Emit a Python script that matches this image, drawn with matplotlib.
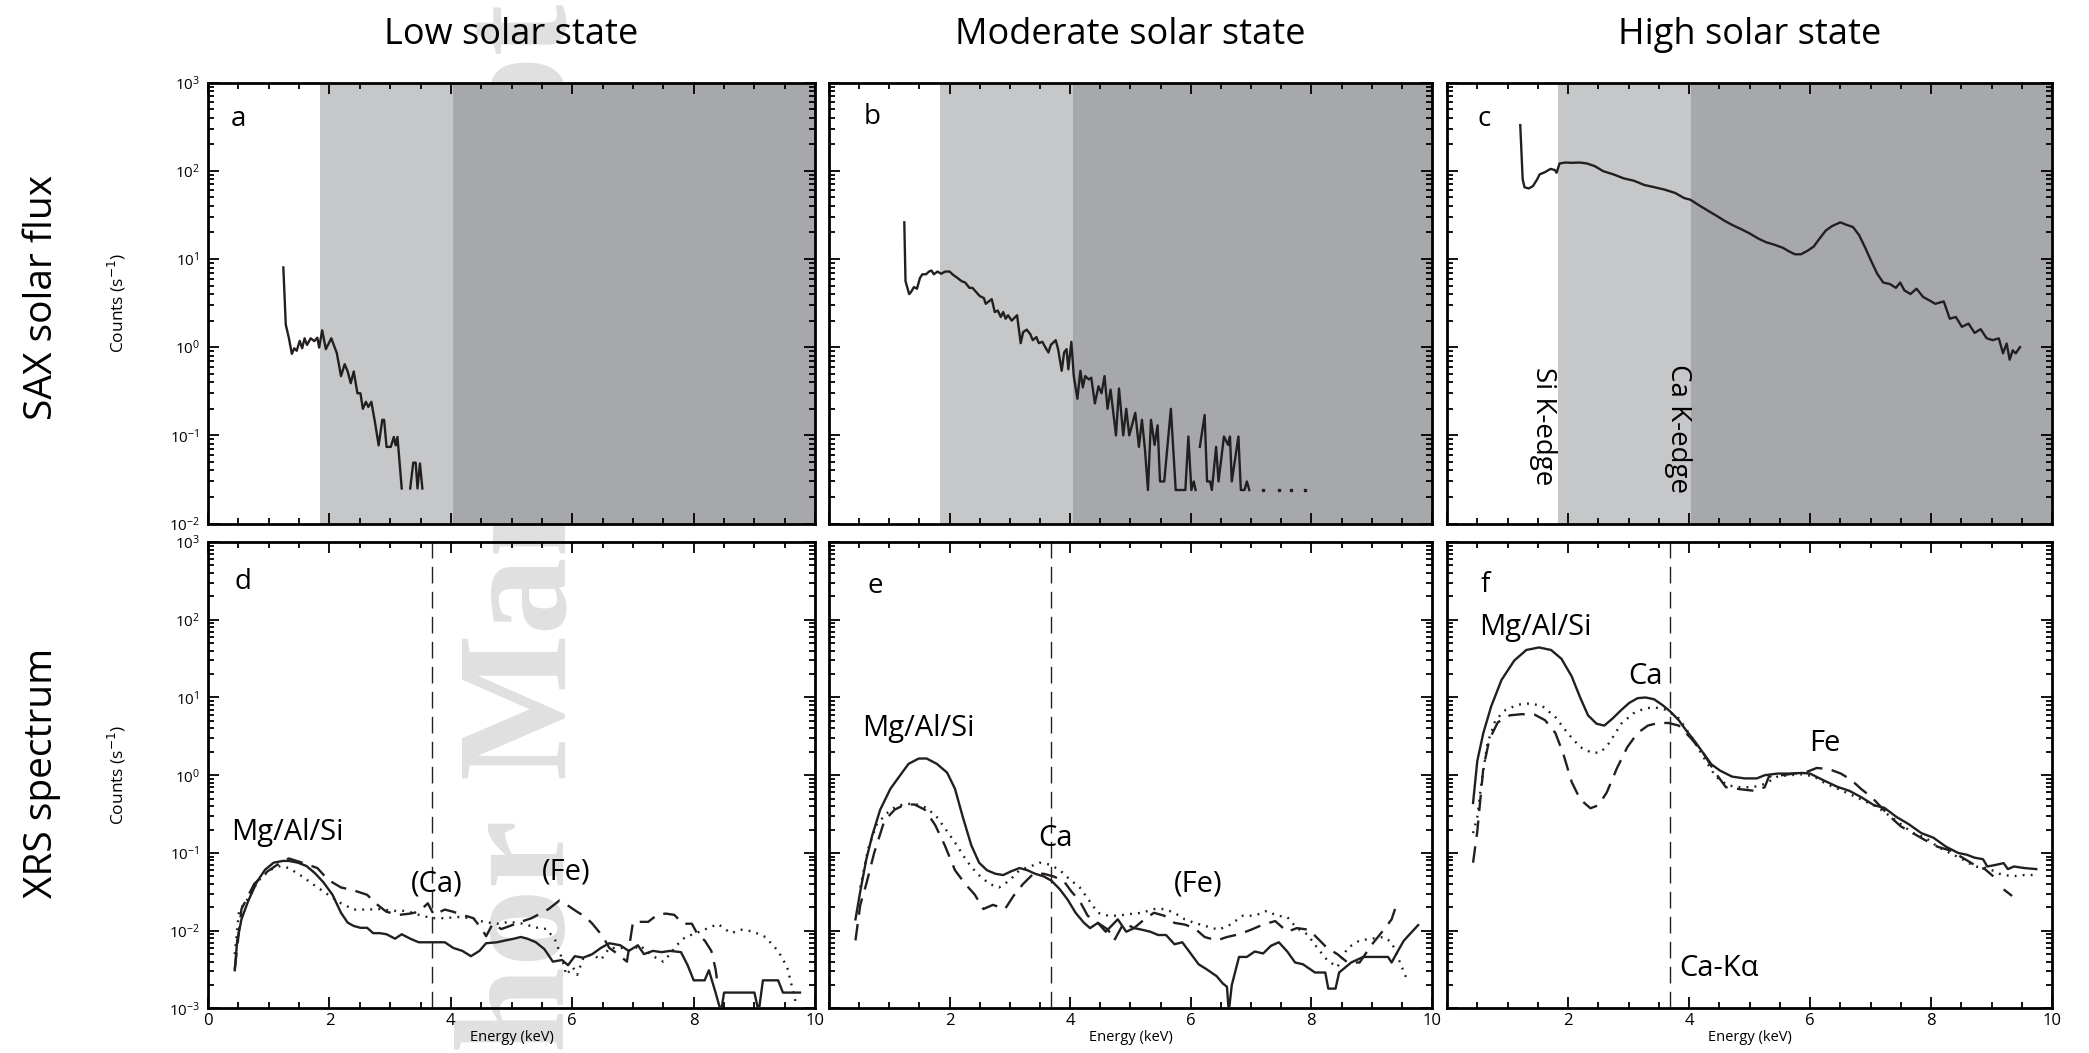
import numpy as np
import matplotlib.pyplot as plt
from matplotlib.ticker import LogLocator, MultipleLocator, NullFormatter, FixedLocator

plt.rcParams['font.family'] = ['Open Sans', 'DejaVu Sans']
nan = np.nan

# ---- SAX solar flux (top row) ----
sax_low_e = [1.24, 1.28, 1.33, 1.38, 1.42, 1.46, 1.51, 1.55, 1.59, 1.63, 1.69, 1.75, 1.80, 1.83, 1.88,
             1.94, 2.03, 2.12, 2.19, 2.25, 2.30, 2.35, 2.40, 2.46, 2.51, 2.55, 2.60, 2.64, 2.69, 2.75,
             2.81, 2.87, 2.90, 2.94, 3.01, 3.06, 3.09, 3.12, 3.19, 3.26, 3.33, 3.38, 3.42, 3.45, 3.49, 3.53]
sax_low_c = [8.0, 1.8, 1.28, 0.84, 0.97, 0.91, 1.18, 0.97, 1.26, 1.06, 1.26, 1.17, 1.28, 0.99, 1.55,
             0.95, 1.26, 0.86, 0.47, 0.64, 0.53, 0.39, 0.53, 0.30, 0.30, 0.20, 0.24, 0.21, 0.24, 0.14,
             0.077, 0.15, 0.15, 0.074, 0.074, 0.096, 0.077, 0.096, 0.025, nan, 0.025, 0.049, 0.049, 0.025, 0.048, 0.025]

sax_mod_e = [1.25, 1.27, 1.33, 1.36, 1.41, 1.46, 1.51, 1.55, 1.61, 1.66, 1.70, 1.74, 1.80, 1.86, 1.93,
             2.00, 2.06, 2.13, 2.20, 2.26, 2.33, 2.38, 2.43, 2.50, 2.57, 2.60, 2.65, 2.70, 2.75, 2.80,
             2.85, 2.89, 2.93, 2.97, 3.03, 3.12, 3.18, 3.22, 3.28, 3.34, 3.38, 3.44, 3.48, 3.54, 3.58,
             3.64, 3.68, 3.76, 3.80, 3.86, 3.90, 3.94, 3.97, 4.02, 4.06, 4.12, 4.17, 4.21, 4.25, 4.31,
             4.35, 4.41, 4.47, 4.52, 4.57, 4.62, 4.67, 4.76, 4.81, 4.88, 4.93, 4.98, 5.08, 5.14, 5.19,
             5.24, 5.29, 5.34, 5.40, 5.45, 5.49, 5.56, 5.67, 5.75, 5.91, 5.96, 6.01, 6.05, 6.08, 6.11,
             6.15, 6.23, 6.27, 6.32, 6.35, 6.42, 6.46, 6.55, 6.62, 6.65, 6.68, 6.79, 6.83, 6.89, 6.93, 6.97]
sax_mod_c = [26, 5.6, 4.0, 4.2, 4.8, 4.6, 6.1, 6.7, 6.7, 7.2, 7.4, 6.7, 7.2, 6.8, 7.2,
             7.2, 6.6, 6.1, 5.6, 5.4, 4.7, 4.7, 4.3, 3.8, 3.6, 3.1, 3.3, 3.5, 2.5, 2.6,
             2.2, 2.5, 2.1, 2.3, 2.0, 2.3, 1.11, 1.48, 1.58, 1.4, 1.2, 1.3, 1.11, 1.15, 1.02,
             0.87, 1.06, 1.2, 0.95, 0.54, 0.87, 0.95, 0.56, 1.15, 0.47, 0.26, 0.54, 0.35, 0.47, 0.43,
             0.45, 0.23, 0.36, 0.30, 0.47, 0.20, 0.33, 0.10, 0.34, 0.10, 0.20, 0.10, 0.18, 0.074, 0.15,
             0.07, 0.024, 0.15, 0.078, 0.13, 0.030, 0.030, 0.20, 0.024, 0.024, 0.097, 0.024, 0.030, 0.024, nan,
             0.074, 0.17, 0.030, 0.030, 0.024, 0.074, 0.030, 0.097, 0.078, 0.097, 0.030, 0.097, 0.024, 0.024, 0.030, 0.024]
sax_mod_dots_e = [7.19, 7.46, 7.66, 7.89]
sax_mod_dots_c = [0.024, 0.024, 0.024, 0.024]

sax_high_e = [1.21, 1.25, 1.28, 1.35, 1.42, 1.49, 1.53, 1.62, 1.71, 1.78, 1.81, 1.86, 1.96, 2.07, 2.19,
              2.31, 2.44, 2.58, 2.75, 2.92, 3.09, 3.26, 3.43, 3.60, 3.77, 3.92, 4.02, 4.18, 4.32, 4.45,
              4.59, 4.73, 4.86, 5.00, 5.14, 5.27, 5.41, 5.55, 5.65, 5.75, 5.85, 5.96, 6.06, 6.16, 6.26,
              6.36, 6.50, 6.60, 6.71, 6.81, 6.91, 7.01, 7.11, 7.21, 7.32, 7.42, 7.49, 7.56, 7.66, 7.76,
              7.87, 7.97, 8.07, 8.21, 8.31, 8.41, 8.51, 8.62, 8.72, 8.82, 8.92, 9.02, 9.12, 9.19, 9.25,
              9.30, 9.35, 9.40, 9.47]
sax_high_c = [329, 80, 65, 63, 67, 80, 91, 96.5, 105, 102, 95, 121, 124, 123, 124,
              121, 113, 99, 91, 82, 77, 69, 65, 61, 56, 49, 47, 40, 35, 31,
              27, 24, 21.8, 19.5, 17.1, 15.5, 14.5, 13.4, 12.2, 11.3, 11.3, 12.4, 13.8, 17.1, 21,
              23.5, 26, 24.4, 23, 18.7, 13.5, 9.5, 6.8, 5.4, 5.2, 4.7, 5.4, 4.4, 4.0, 4.6,
              3.7, 3.4, 3.1, 3.3, 2.1, 2.2, 1.7, 1.85, 1.45, 1.6, 1.26, 1.2, 1.26, 0.85, 1.1,
              0.72, 0.92, 0.85, 1.0]

# ---- XRS spectrum (bottom row) ----
low_solid_e = [0.44, 0.48, 0.55, 0.66, 0.80, 0.94, 1.08, 1.23, 1.33, 1.48, 1.62, 1.76, 1.90, 2.05, 2.19,
               2.30, 2.40, 2.51, 2.62, 2.72, 2.83, 2.94, 3.08, 3.19, 3.33, 3.47, 3.62, 3.76, 3.90, 4.04,
               4.19, 4.33, 4.47, 4.58, 4.76, 4.90, 5.04, 5.15, 5.26, 5.40, 5.54, 5.68, 5.83, 5.93, 6.04,
               6.18, 6.33, 6.47, 6.61, 6.79, 6.93, 7.08, 7.18, 7.33, 7.47, 7.61, 7.79, 7.90, 8.00, 8.18,
               8.25, 8.36, 8.45, 8.50, 8.79, 9.00, 9.07, 9.14, 9.39, 9.47, 9.75]
low_solid_c = [0.0031, 0.0075, 0.014, 0.024, 0.042, 0.061, 0.075, 0.079, 0.079, 0.075, 0.068, 0.055, 0.042, 0.029, 0.017,
               0.0127, 0.0115, 0.0109, 0.0109, 0.0093, 0.0093, 0.009, 0.0079, 0.009, 0.0079, 0.0071, 0.0071, 0.0071, 0.0071, 0.006,
               0.0055, 0.0047, 0.0055, 0.0069, 0.0071, 0.0075, 0.0079, 0.0083, 0.0079, 0.0071, 0.0058, 0.0040, 0.0042, 0.0036, 0.0047,
               0.0045, 0.005, 0.006, 0.0069, 0.0065, 0.0055, 0.0065, 0.005, 0.0055, 0.0053, 0.0055, 0.0053, 0.0036, 0.0023, 0.0023,
               0.0031, 0.0016, 0.0009, 0.0016, 0.0016, 0.0016, 0.0009, 0.0023, 0.0023, 0.0016, 0.0016]
low_dot_e = [0.44, 0.51, 0.66, 0.83, 1.01, 1.19, 1.33, 1.55, 1.76, 1.98, 2.19, 2.40, 2.62, 2.83, 3.05,
             3.26, 3.47, 3.69, 3.90, 4.12, 4.33, 4.54, 4.76, 4.97, 5.19, 5.40, 5.58, 5.72, 5.83, 5.90,
             6.01, 6.08, 6.18, 6.33, 6.47, 6.61, 6.83, 6.97, 7.11, 7.33, 7.50, 7.61, 7.72, 7.86, 8.04,
             8.25, 8.40, 8.61, 8.79, 8.97, 9.18, 9.39, 9.54, 9.68]
low_dot_c = [0.005, 0.018, 0.026, 0.044, 0.06, 0.068, 0.064, 0.05, 0.038, 0.029, 0.0225, 0.0187, 0.0187, 0.019, 0.018,
             0.018, 0.016, 0.0145, 0.0145, 0.015, 0.0145, 0.013, 0.0123, 0.013, 0.0123, 0.011, 0.0105, 0.0075, 0.0044, 0.0027,
             0.0034, 0.0027, 0.0044, 0.005, 0.0042, 0.006, 0.006, 0.0055, 0.0065, 0.0047, 0.004, 0.005, 0.0065, 0.0083, 0.0093,
             0.0109, 0.0122, 0.0093, 0.0103, 0.0098, 0.0083, 0.0055, 0.0034, 0.0012]
low_dash_e = [0.44, 0.55, 0.76, 0.98, 1.19, 1.33, 1.55, 1.80, 1.98, 2.19, 2.40, 2.62, 2.76, 2.94, 3.15,
              3.33, 3.47, 3.62, 3.72, 3.90, 4.04, 4.19, 4.37, 4.51, 4.58, 4.69, 4.83, 4.97, 5.15, 5.33,
              5.47, 5.61, 5.79, 5.93, 6.08, 6.22, 6.33, 6.50, 6.61, 6.75, 6.90, 7.00, 7.11, 7.25, 7.40,
              7.54, 7.68, 7.82, 7.97, 8.07, 8.18, 8.29, 8.36, 8.40]
low_dash_c = [0.0032, 0.019, 0.04, 0.058, 0.075, 0.085, 0.075, 0.064, 0.045, 0.036, 0.033, 0.029, 0.0225, 0.0175, 0.016,
              0.0166, 0.0175, 0.0225, 0.016, 0.0187, 0.0175, 0.016, 0.0145, 0.0105, 0.0085, 0.0123, 0.0105, 0.0115, 0.013, 0.0145,
              0.0166, 0.019, 0.0245, 0.021, 0.0175, 0.015, 0.0123, 0.0085, 0.006, 0.005, 0.004, 0.013, 0.013, 0.013, 0.016,
              0.0166, 0.016, 0.0123, 0.0123, 0.0088, 0.0075, 0.0055, 0.0032, 0.0019]

mod_solid_e = [0.44, 0.52, 0.62, 0.72, 0.85, 1.02, 1.19, 1.32, 1.49, 1.62, 1.79, 1.96, 2.09, 2.22, 2.36,
               2.49, 2.62, 2.76, 2.89, 3.02, 3.16, 3.29, 3.42, 3.56, 3.69, 3.83, 3.96, 4.09, 4.23, 4.33,
               4.46, 4.59, 4.79, 4.93, 5.06, 5.19, 5.33, 5.46, 5.59, 5.73, 5.86, 5.99, 6.13, 6.26, 6.43,
               6.53, 6.60, 6.63, 6.68, 6.80, 6.93, 7.06, 7.20, 7.33, 7.46, 7.60, 7.73, 7.86, 8.06, 8.23,
               8.28, 8.40, 8.46, 8.66, 8.86, 9.07, 9.27, 9.33, 9.43, 9.53, 9.63, 9.77]
mod_solid_c = [0.014, 0.032, 0.083, 0.17, 0.36, 0.67, 1.02, 1.4, 1.64, 1.64, 1.4, 1.08, 0.67, 0.29, 0.126,
               0.075, 0.06, 0.054, 0.052, 0.058, 0.064, 0.06, 0.054, 0.05, 0.044, 0.034, 0.025, 0.017, 0.0126, 0.0108,
               0.0126, 0.0097, 0.014, 0.0097, 0.0108, 0.0103, 0.0097, 0.0088, 0.0088, 0.0067, 0.0071, 0.0052, 0.0037, 0.0032, 0.0026,
               0.0021, 0.0019, 0.0009, 0.002, 0.0046, 0.0046, 0.0054, 0.0051, 0.0064, 0.0071, 0.0054, 0.0039, 0.0037, 0.0029, 0.0029,
               0.0018, 0.0018, 0.0029, 0.0039, 0.0046, 0.0046, 0.0046, 0.0039, 0.0054, 0.0074, 0.009, 0.0118]
mod_dot_e = [0.52, 0.65, 0.79, 0.95, 1.12, 1.29, 1.46, 1.62, 1.79, 1.96, 2.12, 2.29, 2.46, 2.66, 2.82,
             2.99, 3.16, 3.32, 3.49, 3.66, 3.83, 3.99, 4.16, 4.29, 4.46, 4.63, 4.79, 4.99, 5.19, 5.39,
             5.56, 5.73, 5.90, 6.06, 6.26, 6.46, 6.66, 6.86, 7.06, 7.26, 7.43, 7.60, 7.76, 7.93, 8.10,
             8.26, 8.43, 8.60, 8.80, 9.00, 9.20, 9.33, 9.47, 9.60]
mod_dot_c = [0.036, 0.113, 0.23, 0.32, 0.4, 0.43, 0.42, 0.38, 0.29, 0.19, 0.126, 0.078, 0.054, 0.04, 0.036,
             0.044, 0.06, 0.066, 0.075, 0.071, 0.06, 0.046, 0.036, 0.026, 0.017, 0.0156, 0.0156, 0.0164, 0.017, 0.019,
             0.019, 0.017, 0.014, 0.0126, 0.0114, 0.0103, 0.012, 0.0156, 0.0156, 0.018, 0.0156, 0.015, 0.0108, 0.009, 0.006,
             0.0042, 0.0034, 0.006, 0.0075, 0.0079, 0.0083, 0.0071, 0.0039, 0.0022]
mod_dash_e = [0.44, 0.52, 0.62, 0.75, 0.92, 1.09, 1.26, 1.42, 1.59, 1.76, 1.92, 2.09, 2.26, 2.42, 2.56,
              2.72, 2.92, 3.06, 3.22, 3.39, 3.56, 3.72, 3.89, 4.02, 4.16, 4.29, 4.46, 4.63, 4.73, 4.89,
              5.06, 5.23, 5.39, 5.56, 5.73, 5.90, 6.06, 6.23, 6.43, 6.60, 6.80, 7.00, 7.20, 7.40, 7.60,
              7.76, 7.96, 8.13, 8.26, 8.43, 8.60, 8.80, 9.00, 9.20, 9.33, 9.41]
mod_dash_c = [0.0075, 0.0215, 0.04, 0.1, 0.26, 0.36, 0.42, 0.42, 0.36, 0.23, 0.126, 0.06, 0.04, 0.029, 0.019,
              0.0215, 0.019, 0.028, 0.04, 0.054, 0.054, 0.05, 0.044, 0.032, 0.024, 0.0156, 0.0126, 0.0103, 0.0075, 0.0126,
              0.0108, 0.014, 0.017, 0.0156, 0.0126, 0.012, 0.0108, 0.0083, 0.0075, 0.0083, 0.009, 0.0103, 0.012, 0.0133, 0.0097,
              0.0108, 0.0103, 0.0076, 0.006, 0.005, 0.0039, 0.0039, 0.0066, 0.0103, 0.014, 0.0215]

high_solid_e = [0.43, 0.50, 0.60, 0.73, 0.90, 1.11, 1.31, 1.52, 1.72, 1.89, 2.06, 2.20, 2.33, 2.47, 2.60,
                2.74, 2.88, 3.01, 3.15, 3.28, 3.42, 3.56, 3.69, 3.83, 3.96, 4.10, 4.24, 4.37, 4.51, 4.71,
                4.92, 5.12, 5.25, 5.46, 5.66, 5.87, 6.00, 6.21, 6.45, 6.65, 6.85, 7.06, 7.23, 7.43, 7.63,
                7.84, 8.04, 8.25, 8.45, 8.59, 8.72, 8.86, 8.93, 9.06, 9.20, 9.27, 9.37, 9.54, 9.74]
high_solid_c = [0.44, 1.53, 3.5, 7.7, 16.8, 29.8, 40.8, 44, 40.8, 31.5, 18.7, 10, 5.9, 4.6, 4.35,
                5.4, 6.9, 8.5, 9.8, 10, 9.5, 8.0, 6.6, 5.1, 3.7, 2.7, 1.9, 1.38, 1.15, 0.96,
                0.91, 0.91, 1.0, 1.05, 1.05, 1.07, 1.05, 0.87, 0.71, 0.63, 0.52, 0.41, 0.38, 0.29, 0.235,
                0.18, 0.157, 0.12, 0.1, 0.095, 0.087, 0.083, 0.067, 0.07, 0.074, 0.062, 0.067, 0.064, 0.062]
high_dot_e = [0.43, 0.50, 0.57, 0.67, 0.80, 0.97, 1.18, 1.38, 1.58, 1.79, 1.99, 2.20, 2.40, 2.54, 2.68,
              2.88, 3.08, 3.28, 3.45, 3.62, 3.83, 4.03, 4.24, 4.44, 4.64, 4.85, 5.05, 5.25, 5.46, 5.66,
              5.87, 6.07, 6.27, 6.48, 6.68, 6.89, 7.09, 7.29, 7.50, 7.70, 7.91, 8.11, 8.31, 8.52, 8.72,
              8.93, 9.13, 9.34, 9.54, 9.74]
high_dot_c = [0.18, 0.29, 0.82, 2.6, 5.1, 6.95, 8.1, 8.4, 7.7, 5.6, 3.5, 2.3, 1.93, 1.97, 2.6,
              4.6, 6.25, 7.3, 7.4, 6.95, 5.4, 3.2, 1.7, 0.96, 0.74, 0.70, 0.70, 0.77, 0.96, 1.0,
              1.03, 0.96, 0.77, 0.66, 0.56, 0.47, 0.40, 0.31, 0.235, 0.18, 0.157, 0.12, 0.1, 0.083, 0.067,
              0.064, 0.054, 0.05, 0.052, 0.052]
high_dash_e = [0.43, 0.50, 0.60, 0.70, 0.84, 1.04, 1.24, 1.45, 1.62, 1.79, 1.92, 2.06, 2.20, 2.37, 2.50,
               2.64, 2.81, 2.98, 3.15, 3.32, 3.49, 3.66, 3.83, 4.03, 4.24, 4.44, 4.61, 4.85, 5.08, 5.25,
               5.32, 5.53, 5.73, 5.94, 6.11, 6.31, 6.51, 6.68, 6.85, 7.02, 7.16, 7.33, 7.50, 7.70, 7.91,
               8.11, 8.31, 8.52, 8.72, 8.89, 9.03, 9.12, 9.20, 9.34]
high_dash_c = [0.075, 0.19, 1.24, 2.9, 4.8, 5.9, 6.1, 6.0, 5.1, 3.5, 1.9, 0.82, 0.49, 0.376, 0.41,
               0.6, 1.24, 2.3, 3.5, 4.35, 4.7, 4.7, 4.35, 3.0, 1.9, 1.06, 0.70, 0.66, 0.63, 0.70,
               0.96, 1.0, 1.05, 1.1, 1.24, 1.2, 1.05, 0.87, 0.66, 0.52, 0.40, 0.29, 0.22, 0.18, 0.145,
               0.12, 0.108, 0.087, 0.07, 0.062, 0.05, nan, 0.034, 0.028]

titles = ['Low solar state', 'Moderate solar state', 'High solar state']
top_letters = ['a', 'b', 'c']
bottom_letters = ['d', 'e', 'f']
si_edge = 1.84
ca_edge = 4.04
ca_ka = 3.69

fig = plt.figure(figsize=(20.89, 10.53), dpi=100)

lefts = [0.0996, 0.3968, 0.6927]
widths = [0.2906, 0.2887, 0.2896]
top_axes = [fig.add_axes([l, 0.5028, w, 0.4188]) for l, w in zip(lefts, widths)]
bot_axes = [fig.add_axes([l, 0.0423, w, 0.4430]) for l, w in zip(lefts, widths)]

# faint "Author Manuscript" watermark behind everything
wm = dict(rotation=90, rotation_mode='anchor', va='baseline', fontsize=112,
          family='Liberation Serif', weight='bold', color='#e0e0e0', zorder=-5)
fig.text(0.2695, 0.2612, 'Manuscript', ha='left', **wm)
fig.text(0.2695, 0.2241, 'Author', ha='right', **wm)

lw = 1.7
dot_ls = (0, (0.8, 2.6))
dash_ls = (0, (7, 4))


def style(ax, ymin, col, bottom):
    ax.set_facecolor('none')
    ax.set_xlim(0, 10)
    ax.set_yscale('log')
    ax.set_ylim(ymin, 1e3)
    ax.xaxis.set_major_locator(MultipleLocator(2))
    ax.xaxis.set_minor_locator(MultipleLocator(0.5))
    ax.yaxis.set_major_locator(LogLocator(base=10, numticks=20))
    ax.yaxis.set_minor_locator(LogLocator(base=10, subs=np.arange(2, 10), numticks=20))
    ax.yaxis.set_minor_formatter(NullFormatter())
    ax.tick_params(which='both', direction='in', top=True, right=True, width=1.3)
    ax.tick_params(which='major', length=8)
    ax.tick_params(which='minor', length=4)
    ax.tick_params(axis='y', labelsize=11, pad=6)
    ax.tick_params(axis='x', labelsize=12, pad=3)
    for sp in ax.spines.values():
        sp.set_linewidth(2.0)
    if col > 0:
        ax.tick_params(axis='y', labelleft=False)
    else:
        ax.set_ylabel('Counts (s$^{-1}$)', fontsize=12.5, labelpad=29)
    if not bottom:
        ax.tick_params(axis='x', labelbottom=False)
    else:
        ax.set_xlabel('Energy (keV)', fontsize=10.5, labelpad=1)
        if col > 0:
            ax.xaxis.set_major_locator(FixedLocator([2, 4, 6, 8, 10]))


sax_series = [(sax_low_e, sax_low_c), (sax_mod_e, sax_mod_c), (sax_high_e, sax_high_c)]
for i, ax in enumerate(top_axes):
    style(ax, 1e-2, i, False)
    ax.axvspan(si_edge, ca_edge, color='#c6c7c9', lw=0, zorder=0)
    ax.axvspan(ca_edge, 10, color='#a7a8ab', lw=0, zorder=0)
    e, c = sax_series[i]
    ax.plot(e, c, color='#231f20', lw=lw, zorder=3)
    ax.set_title(titles[i], fontsize=26, pad=28)

top_axes[1].plot(sax_mod_dots_e, sax_mod_dots_c, ls='none', marker='s', ms=1.6,
                 color='#231f20', zorder=3)

letter_pos = [(0.50, 10**2.59), (0.71, 10**2.61), (0.62, 10**2.59)]
for ax, t, (x, y) in zip(top_axes, top_letters, letter_pos):
    ax.text(x, y, t, fontsize=20, va='center', ha='center')

top_axes[2].text(1.59, 10**-0.9, 'Si K-edge', rotation=-90, fontsize=20, ha='center', va='center')
top_axes[2].text(3.81, 10**-0.92, 'Ca K-edge', rotation=-90, fontsize=20, ha='center', va='center')

xrs_series = [
    [(low_solid_e, low_solid_c, '-'), (low_dot_e, low_dot_c, dot_ls), (low_dash_e, low_dash_c, dash_ls)],
    [(mod_solid_e, mod_solid_c, '-'), (mod_dot_e, mod_dot_c, dot_ls), (mod_dash_e, mod_dash_c, dash_ls)],
    [(high_solid_e, high_solid_c, '-'), (high_dot_e, high_dot_c, dot_ls), (high_dash_e, high_dash_c, dash_ls)],
]
bot_letter_pos = [(0.58, 10**2.48), (0.77, 10**2.44), (0.63, 10**2.45)]
for i, ax in enumerate(bot_axes):
    style(ax, 1e-3, i, True)
    ax.axvline(ca_ka, color='#231f20', lw=1.0, ls=(0, (12, 6)), zorder=2)
    for e, c, ls in xrs_series[i]:
        ax.plot(e, c, color='#231f20', lw=lw, ls=ls, zorder=3)
    x, y = bot_letter_pos[i]
    ax.text(x, y, bottom_letters[i], fontsize=20, va='center', ha='center')

fs = 21
bot_axes[0].text(0.38, 10**-0.74, 'Mg/Al/Si', fontsize=fs, va='center', ha='left')
bot_axes[0].text(3.76, 10**-1.40, '(Ca)', fontsize=fs, va='center', ha='center')
bot_axes[0].text(5.90, 10**-1.24, '(Fe)', fontsize=fs, va='center', ha='center')
bot_axes[1].text(0.55, 10**0.60, 'Mg/Al/Si', fontsize=fs, va='center', ha='left')
bot_axes[1].text(3.76, 10**-0.81, 'Ca', fontsize=fs, va='center', ha='center')
bot_axes[1].text(6.13, 10**-1.40, '(Fe)', fontsize=fs, va='center', ha='center')
bot_axes[2].text(0.53, 10**1.90, 'Mg/Al/Si', fontsize=fs, va='center', ha='left')
bot_axes[2].text(3.28, 10**1.27, 'Ca', fontsize=fs, va='center', ha='center')
bot_axes[2].text(6.24, 10**0.41, 'Fe', fontsize=fs, va='center', ha='center')
bot_axes[2].text(3.83, 10**-2.48, 'Ca-K\u03b1', fontsize=fs, va='center', ha='left')

fig.text(0.020, 0.718, 'SAX solar flux', rotation=90, fontsize=28, ha='center', va='center')
fig.text(0.020, 0.266, 'XRS spectrum', rotation=90, fontsize=28, ha='center', va='center')

fig.savefig('out.png', dpi=100)
